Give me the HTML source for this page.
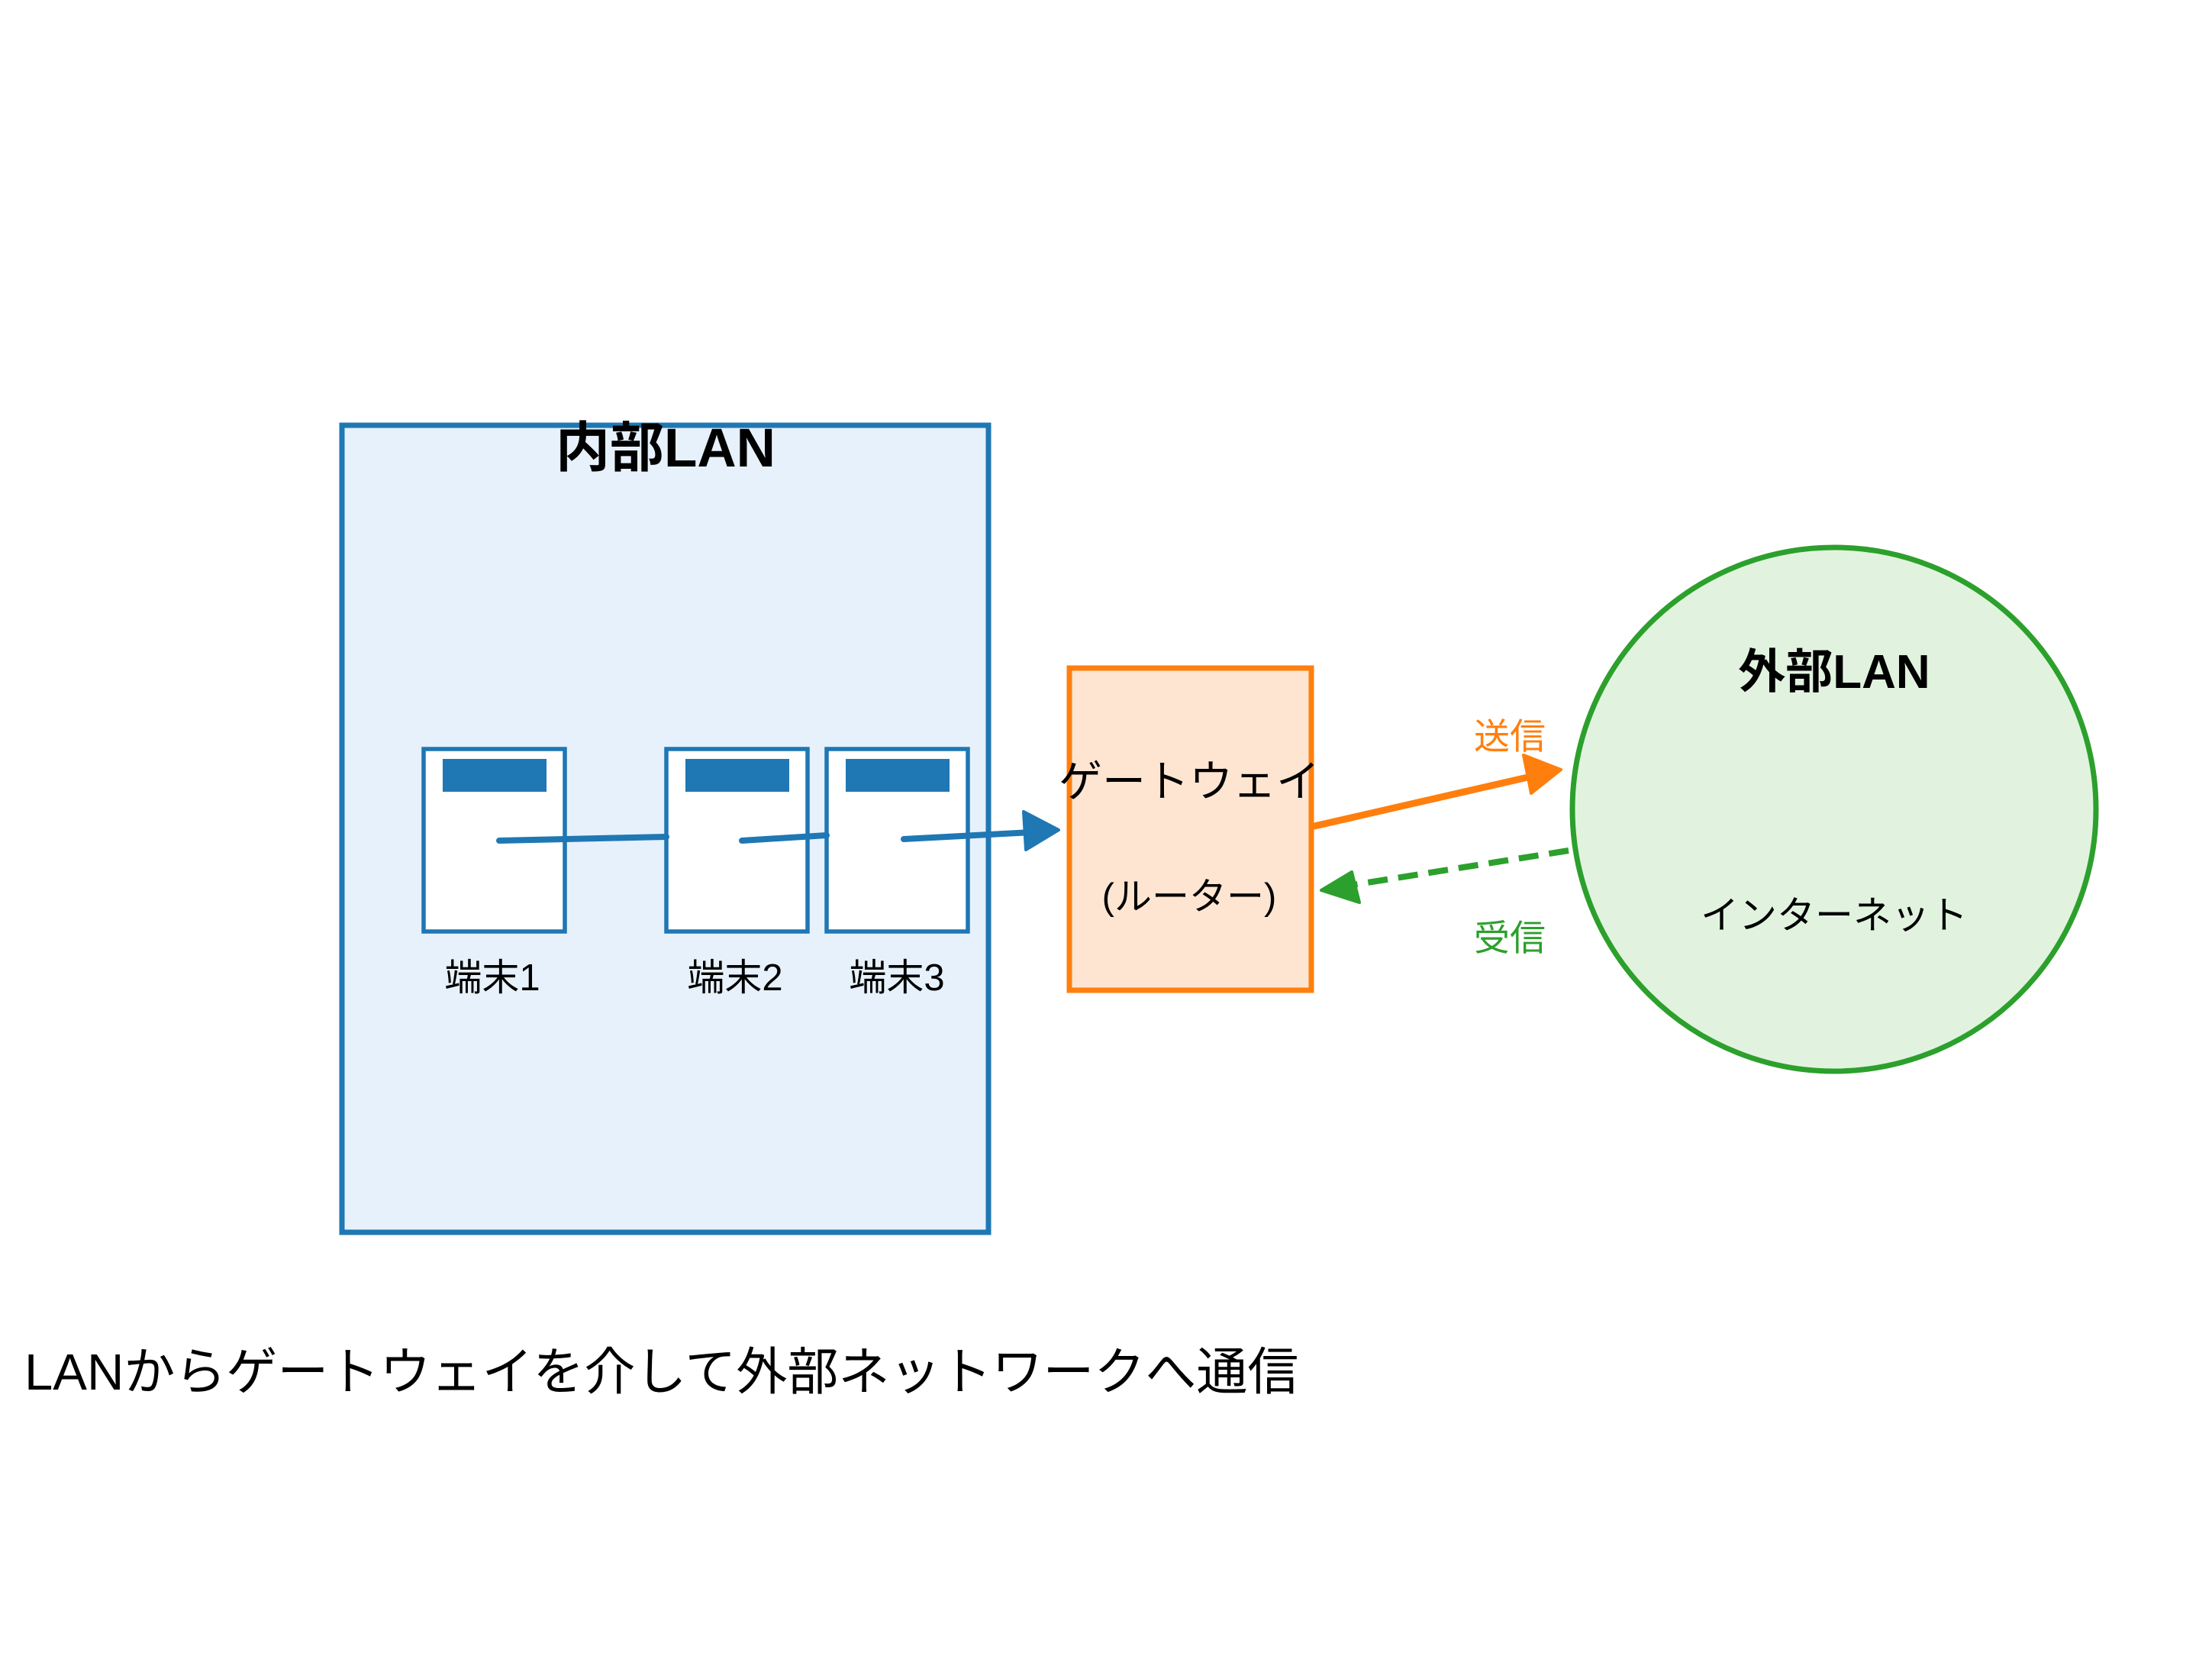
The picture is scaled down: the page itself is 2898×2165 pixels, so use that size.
<!DOCTYPE html>
<html><head><meta charset="utf-8"><style>html,body{margin:0;padding:0;background:#fff}svg{display:block}text{font-family:"Liberation Sans","Noto Sans CJK JP",sans-serif}</style></head><body>
<svg width="2898" height="2165" viewBox="0 0 2898 2165" xmlns="http://www.w3.org/2000/svg">
<rect x="0" y="0" width="2898" height="2165" fill="#fff"/>
<rect x="448" y="557" width="847" height="1057" fill="#e7f1fb" stroke="#1f77b4" stroke-width="7"/>
<text x="872" y="611" font-size="71" font-weight="bold" text-anchor="middle" fill="#000">内部LAN</text>
<g stroke="#1f77b4" stroke-width="5.5" fill="#fff">
<rect x="555" y="981" width="185" height="239"/>
<rect x="873" y="981" width="185" height="239"/>
<rect x="1083" y="981" width="185" height="239"/>
</g>
<g fill="#1f77b4">
<rect x="580" y="994" width="136" height="43"/>
<rect x="898" y="994" width="136" height="43"/>
<rect x="1108" y="994" width="136" height="43"/>
</g>
<g font-size="49" text-anchor="middle" fill="#000">
<text x="645" y="1297">端末1</text>
<text x="963" y="1297">端末2</text>
<text x="1175" y="1297">端末3</text>
</g>
<g stroke="#1f77b4" stroke-width="8" stroke-linecap="round" fill="none">
<line x1="654" y1="1101" x2="873" y2="1096"/>
<line x1="972" y1="1101" x2="1083" y2="1094"/>
<line x1="1184" y1="1099" x2="1352" y2="1090"/>
</g>
<polygon points="1387,1087 1341,1063 1344,1113" fill="#1f77b4" stroke="#1f77b4" stroke-width="4" stroke-linejoin="round"/>
<rect x="1401" y="875" width="317" height="422" fill="#fee5d1" stroke="#ff7f0e" stroke-width="7"/>
<text x="1558" y="1043" font-size="57" text-anchor="middle" fill="#000">ゲートウェイ</text>
<text x="1558" y="1191" font-size="49" text-anchor="middle" fill="#000">(ルーター)</text>
<circle cx="2403" cy="1060" r="343" fill="#e1f3df" stroke="#2ca02c" stroke-width="7"/>
<text x="2403" y="901" font-size="62" font-weight="bold" text-anchor="middle" fill="#000">外部LAN</text>
<text x="2403" y="1216" font-size="50" text-anchor="middle" fill="#000">インターネット</text>
<line x1="1722" y1="1082" x2="2006" y2="1017" stroke="#ff7f0e" stroke-width="9" stroke-linecap="round"/>
<polygon points="2045,1008 1996,989 2006,1039" fill="#ff7f0e" stroke="#ff7f0e" stroke-width="4" stroke-linejoin="round"/>
<text x="1978" y="981" font-size="47" text-anchor="middle" fill="#ff7f0e">送信</text>
<line x1="2055" y1="1114" x2="1760" y2="1161" stroke="#2ca02c" stroke-width="8" stroke-dasharray="26,14"/>
<polygon points="1731,1166 1771,1142 1781,1182" fill="#2ca02c" stroke="#2ca02c" stroke-width="4" stroke-linejoin="round"/>
<text x="1978" y="1245" font-size="47" text-anchor="middle" fill="#2ca02c">受信</text>
<text x="32" y="1820" font-size="67" fill="#000">LANからゲートウェイを介して外部ネットワークへ通信</text>
</svg>
</body></html>
